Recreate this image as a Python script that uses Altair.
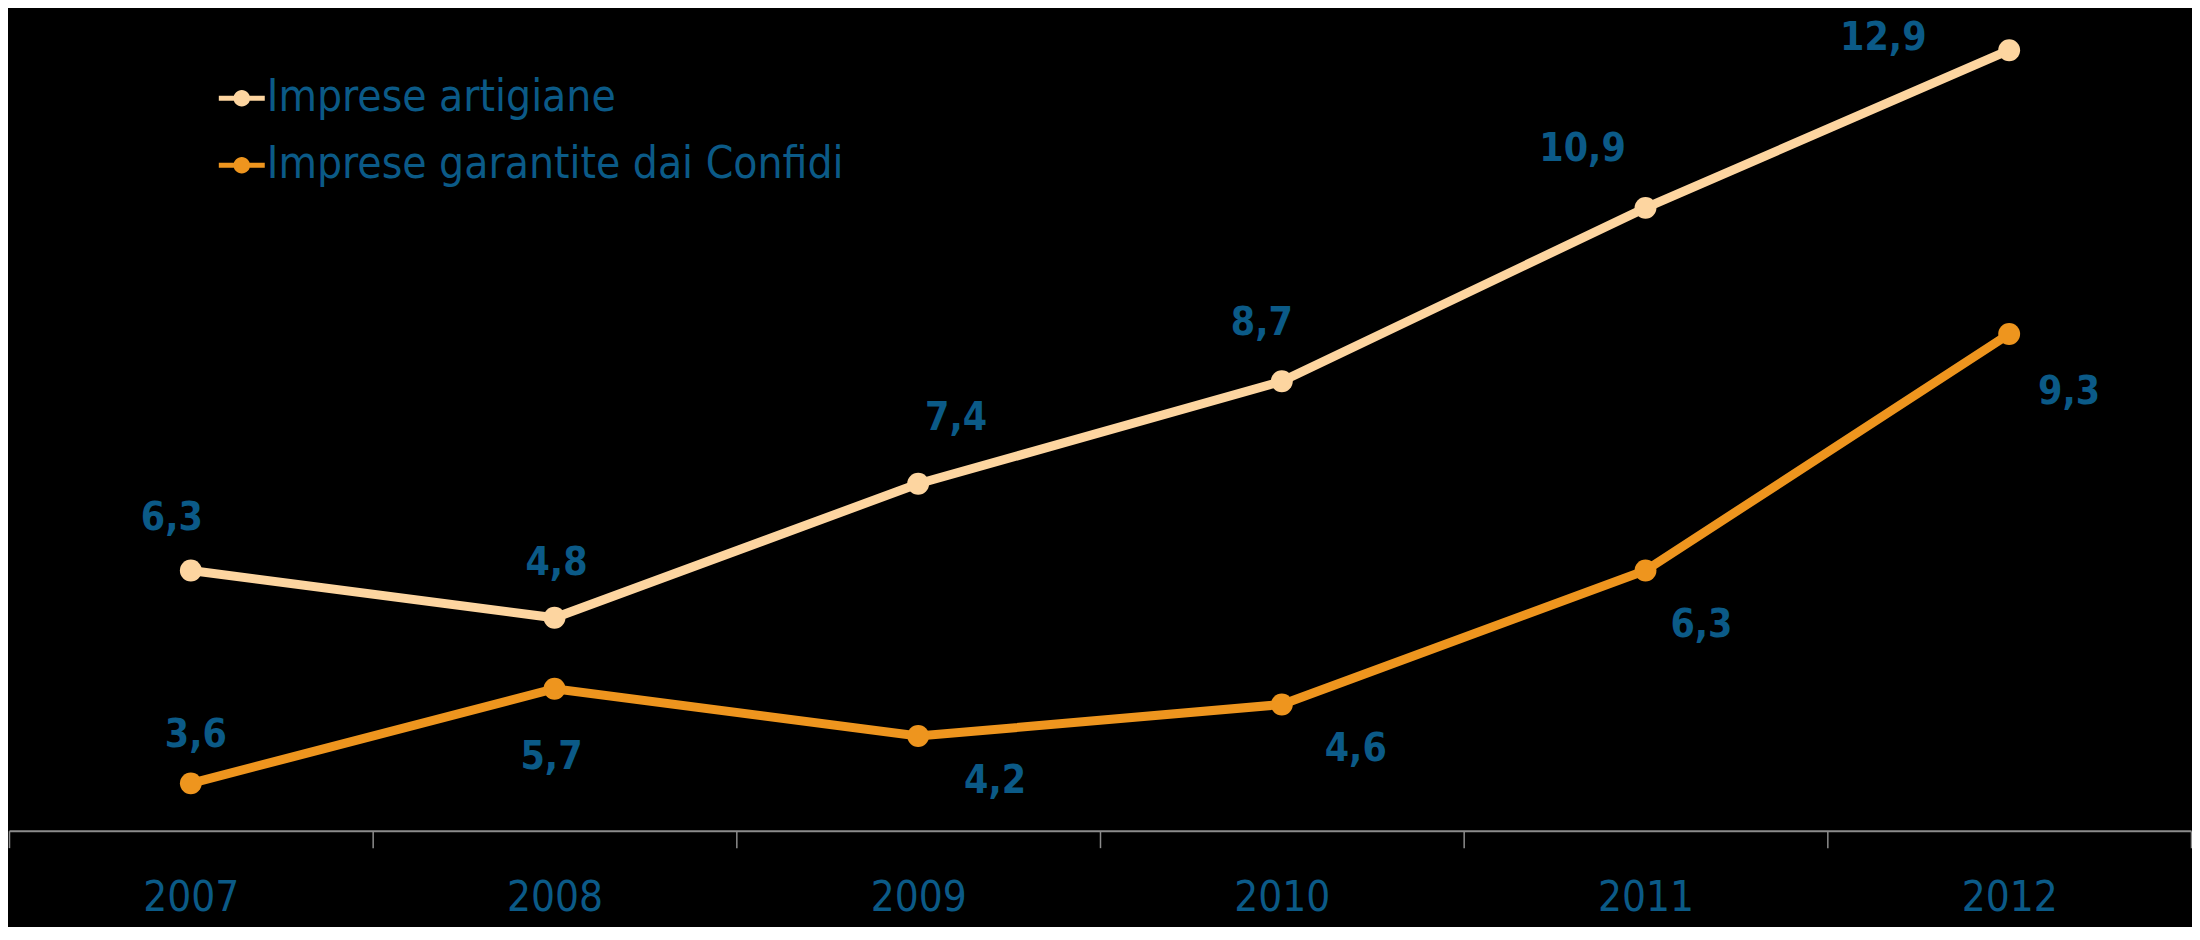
import altair as alt
import pandas as pd

# ---- data ----
years = ["2007", "2008", "2009", "2010", "2011", "2012"]
series_names = ["Imprese artigiane", "Imprese garantite dai Confidi"]
artigiane_values = [6.3, 5.7, 7.4, 8.7, 10.9, 12.9]
confidi_values = [3.6, 4.8, 4.2, 4.6, 6.3, 9.3]
# label texts as printed on the chart
artigiane_labels = ["6,3", "4,8", "7,4", "8,7", "10,9", "12,9"]
confidi_labels = ["3,6", "5,7", "4,2", "4,6", "6,3", "9,3"]

rows = []
for name, vals, labs in [
    (series_names[0], artigiane_values, artigiane_labels),
    (series_names[1], confidi_values, confidi_labels),
]:
    for y, v, l in zip(years, vals, labs):
        rows.append({"series": name, "year": y, "value": v, "label": l})
df = pd.DataFrame(rows)

# ---- styling ----
PEACH = "#FDD5A0"
ORANGE = "#EE951E"
BLUE = "#0B5A87"
FONT = "DejaVu Sans Condensed, Liberation Sans Narrow, sans-serif"

W, H = 2184, 823

color_scale = alt.Scale(domain=series_names, range=[PEACH, ORANGE])
x_enc = alt.X(
    "year:N",
    sort=years,
    scale=alt.Scale(paddingInner=0, paddingOuter=0),
    axis=alt.Axis(
        title=None,
        labelAngle=0,
        labelFontSize=42,
        labelFont=FONT,
        labelColor=BLUE,
        labelPadding=30,
        domainColor="#8C8C8C",
        domainWidth=2,
        tickColor="#8C8C8C",
        tickWidth=1.5,
        tickSize=17,
        tickBand="extent",
        grid=False,
    ),
)
y_enc = alt.Y("value:Q", scale=alt.Scale(domain=[3, 13.43], nice=False, zero=False), axis=None)

symbol_path = (
    "M-1,-0.11L1,-0.11L1,0.11L-1,0.11Z "
    "M0.36,0A0.36,0.36,0,1,1,-0.36,0A0.36,0.36,0,1,1,0.36,0Z"
)

color_enc = alt.Color(
    "series:N",
    scale=color_scale,
    sort=series_names,
    legend=alt.Legend(
        title=None,
        orient="none",
        legendX=210,
        legendY=67,
        direction="vertical",
        symbolType=symbol_path,
        symbolSize=2116,
        symbolStrokeWidth=0,
        symbolOpacity=1,
        labelFont=FONT,
        labelFontSize=44,
        labelColor=BLUE,
        labelOffset=2,
        rowPadding=22,
        padding=0,
        labelLimit=800,
    ),
)

base = alt.Chart(df)

lines = base.mark_line(strokeWidth=9).encode(x=x_enc, y=y_enc, color=color_enc)
points = base.mark_point(filled=True, size=480, opacity=1).encode(x=x_enc, y=y_enc, color=color_enc)

# label placement nudges (dx, dy) per point, as seen in the reference
nudges = {
    (series_names[0], "2007"): (-19, -53),
    (series_names[0], "2008"): (2, -55),
    (series_names[0], "2009"): (38, -66),
    (series_names[0], "2010"): (-20, -58),
    (series_names[0], "2011"): (-63, -59),
    (series_names[0], "2012"): (-126, -12),
    (series_names[1], "2007"): (5, -48),
    (series_names[1], "2008"): (-3, 68),
    (series_names[1], "2009"): (77, 45),
    (series_names[1], "2010"): (74, 45),
    (series_names[1], "2011"): (56, 55),
    (series_names[1], "2012"): (60, 58),
}

text_layers = []
for (s, yr), (dx, dy) in nudges.items():
    t = (
        base.transform_filter((alt.datum.series == s) & (alt.datum.year == yr))
        .mark_text(
            dx=dx,
            dy=dy,
            font=FONT,
            fontSize=39,
            fontWeight="bold",
            color=BLUE,
            align="center",
            baseline="middle",
        )
        .encode(x=x_enc, y=y_enc, text="label:N")
    )
    text_layers.append(t)

chart = (
    alt.layer(lines, points, *text_layers)
    .properties(width=W, height=H, background="black", padding={"left": 0, "top": 0, "right": 0, "bottom": 8})
    .configure_view(stroke=None)
)

chart.save("out.html", embed_options={"renderer": "svg", "actions": False})
